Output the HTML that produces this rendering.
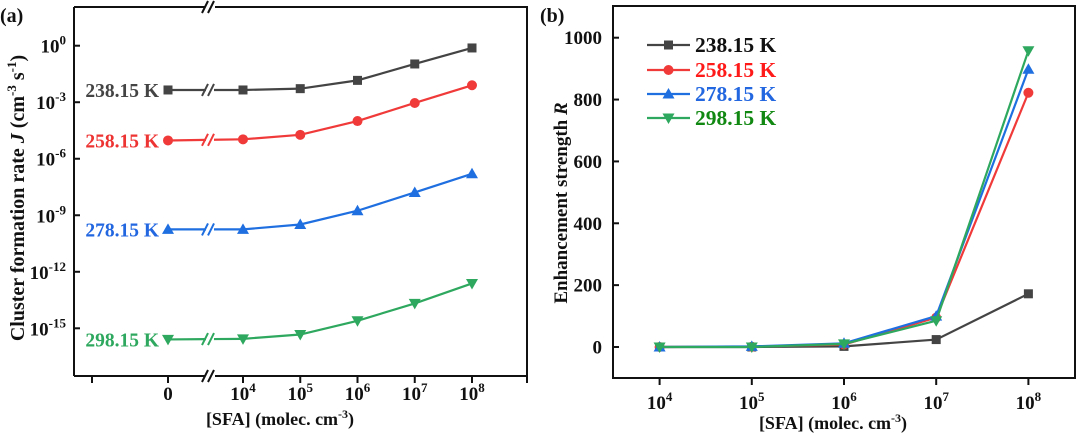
<!DOCTYPE html>
<html><head><meta charset="utf-8"><style>
html,body{margin:0;padding:0;background:#fff;}
svg{display:block;font-family:"Liberation Serif",serif;font-weight:bold;}
</style></head><body>
<svg id="chart" width="1077" height="433" viewBox="0 0 1077 433">
<g id="pa"></g>
<g id="pb"></g>
</svg>
<script>
// ---- Panel (a) data ----
const aCategories = ["0", "1e4", "1e5", "1e6", "1e7", "1e8"];
const aTickLabelsExp = [null, 4, 5, 6, 7, 8];
const aSeriesNames = ["238.15 K", "258.15 K", "278.15 K", "298.15 K"];
const aLog238 = [-2.35, -2.35, -2.28, -1.84, -0.97, -0.12];
const aLog258 = [-5.03, -4.97, -4.73, -4.0, -3.04, -2.1];
const aLog278 = [-9.75, -9.75, -9.49, -8.76, -7.79, -6.8];
const aLog298 = [-15.59, -15.56, -15.33, -14.6, -13.68, -12.62];
const aYTicks = [0, -3, -6, -9, -12, -15];
// ---- Panel (b) data ----
const bCategories = [4, 5, 6, 7, 8];
const bR238 = [0, 0, 2, 24, 172];
const bR258 = [0, 1, 8, 95, 822];
const bR278 = [0, 2, 12, 100, 898];
const bR298 = [0, 0, 10, 85, 958];
const bYTicks = [0, 200, 400, 600, 800, 1000];

const NS = "http://www.w3.org/2000/svg";
function mk(parent, tag, attrs, text){
  const e = document.createElementNS(NS, tag);
  for (const k in attrs) e.setAttribute(k, attrs[k]);
  if (text !== undefined) e.textContent = text;
  parent.appendChild(e); return e;
}
const colors = ["#444444", "#f03a3a", "#1f6fe0", "#2ea85e"];
const labelColors = ["#444444", "#ee3333", "#2266e0", "#2ea85e"];
const legendText = ["#111111", "#ff1a1a", "#2266e0", "#118811"];

function marker(g, type, x, y, c){
  let e;
  if (type === 0) e = mk(g, "rect", {x:x-4.5, y:y-4.5, width:9, height:9, fill:c});
  else if (type === 1) e = mk(g, "circle", {cx:x, cy:y, r:5, fill:c});
  else if (type === 2) e = mk(g, "polygon", {points:`${x},${y-6} ${x-6},${y+4.5} ${x+6},${y+4.5}`, fill:c});
  else e = mk(g, "polygon", {points:`${x},${y+6} ${x-6},${y-4.5} ${x+6},${y-4.5}`, fill:c});
  
  
  return e;
}
function sup(g, x, y, base, exp, anchor){
  const t = mk(g, "text", {x:x, y:y, "font-size":19, "text-anchor":anchor||"middle", fill:"#111"});
  mk(t, "tspan", {}, base);
  mk(t, "tspan", {"font-size":13, dy:-8}, exp);
  return t;
}

// ===== Panel A =====
(function(){
  const g = document.getElementById("pa");
  const L=74, R=527, T=7, B=376;
  const xa = i => i === 0 ? 168 : 243 + (i-1)*57.25;
  const ya = v => 45.7 - v*18.84;
  const br = 210;
  const ax = mk(g, "path", {d:`M${L},${T} L${br-5},${T} M${br+5},${T} L${R},${T} L${R},${B} L${br+5},${B} M${br-5},${B} L${L},${B} Z M${L},${T} L${L},${B}`, stroke:"#111", "stroke-width":2, fill:"none"});
  
  
  for (const yy of [T, B]) {
    const bk = mk(g, "path", {d:`M${br-8},${yy+6} L${br-2},${yy-6} M${br-2},${yy+6} L${br+4},${yy-6}`, stroke:"#111", "stroke-width":2, fill:"none"});
    
    
  }
  aYTicks.forEach(v => {
    const y = ya(v);
    mk(g, "line", {x1:L, x2:L+6, y1:y, y2:y, stroke:"#111", "stroke-width":2});
    const t = sup(g, L-8, y+7, "10", String(v), "end");
    
    
  });
  const xt = [92].concat(aCategories.map((c,i)=>xa(i))).concat([527]);
  xt.forEach(x => mk(g, "line", {x1:x, x2:x, y1:B, y2:B+7, stroke:"#111", "stroke-width":2}));
  aCategories.forEach((c,i) => {
    let t;
    if (i === 0) t = mk(g, "text", {x:xa(i), y:400, "font-size":19, "text-anchor":"middle", fill:"#111"}, "0");
    else t = sup(g, xa(i), 400, "10", String(aTickLabelsExp[i]));
    
    
  });
  const xtit = mk(g, "text", {x:280, y:425, "font-size":18, "text-anchor":"middle", fill:"#111"});
  
  
  mk(xtit, "tspan", {}, "[SFA] (molec. cm");
  mk(xtit, "tspan", {"font-size":12, dy:-7}, "-3");
  mk(xtit, "tspan", {dy:7}, ")");
  const ytit = mk(g, "text", {transform:"translate(24,198) rotate(-90)", "font-size":20, "text-anchor":"middle", fill:"#111"});
  
  
  mk(ytit, "tspan", {}, "Cluster formation rate ");
  mk(ytit, "tspan", {"font-style":"italic"}, "J");
  mk(ytit, "tspan", {}, " (cm");
  mk(ytit, "tspan", {"font-size":13, dy:-8}, "-3");
  mk(ytit, "tspan", {dy:8}, " s");
  mk(ytit, "tspan", {"font-size":13, dy:-8}, "-1");
  mk(ytit, "tspan", {dy:8}, ")");
  const pl = mk(g, "text", {x:0, y:22, "font-size":20, fill:"#111"}, "(a)");
  
  

  const series = [aLog238, aLog258, aLog278, aLog298];
  series.forEach((s, k) => {
    const c = colors[k];
    const sg = mk(g, "g", {});
    
    
    const y0 = ya(s[0]), y1 = ya(s[1]);
    const mid = (v)=> y0 + (y1-y0)*((v-168)/(243-168));
    mk(sg, "line", {x1:xa(0), y1:y0, x2:br-4, y2:mid(br-4), stroke:c, "stroke-width":2.2});
    mk(sg, "line", {x1:br+4, y1:mid(br+4), x2:xa(1), y2:y1, stroke:c, "stroke-width":2.2});
    mk(sg, "path", {d:`M${br-8},${mid(br)+6} L${br-2},${mid(br)-6} M${br-2},${mid(br)+6} L${br+4},${mid(br)-6}`, stroke:c, "stroke-width":2, fill:"none"});
    let d = "";
    for (let i=1;i<s.length;i++) d += (i===1?"M":"L") + xa(i) + "," + ya(s[i]) + " ";
    mk(sg, "path", {d:d, stroke:c, "stroke-width":2.2, fill:"none"});
    s.forEach((v,i) => marker(sg, k, xa(i), ya(v), c));
    const lab = mk(g, "text", {x:159, y:y0+7, "font-size":19.5, "text-anchor":"end", fill:labelColors[k]}, aSeriesNames[k]);
    
    
  });
})();

// ===== Panel B =====
(function(){
  const g = document.getElementById("pb");
  const L=613, R=1075, T=6, B=378;
  const xb = e => 659.6 + (e-4)*92.2;
  const yb = v => 347 - v*0.3093;
  const fr = mk(g, "rect", {x:L, y:T, width:R-L, height:B-T, stroke:"#111", "stroke-width":2, fill:"none"});
  
  
  bYTicks.forEach(v => {
    const y = yb(v);
    mk(g, "line", {x1:L, x2:L+6, y1:y, y2:y, stroke:"#111", "stroke-width":2});
    const t = mk(g, "text", {x:L-11, y:y+6.5, "font-size":19, "text-anchor":"end", fill:"#111"}, String(v));
    
    
  });
  bCategories.forEach(e => {
    const x = xb(e);
    mk(g, "line", {x1:x, x2:x, y1:B, y2:B+7, stroke:"#111", "stroke-width":2});
    const t = sup(g, x, 409, "10", String(e));
    
    
  });
  const xtit = mk(g, "text", {x:833, y:429, "font-size":18, "text-anchor":"middle", fill:"#111"});
  
  
  mk(xtit, "tspan", {}, "[SFA] (molec. cm");
  mk(xtit, "tspan", {"font-size":12, dy:-7}, "-3");
  mk(xtit, "tspan", {dy:7}, ")");
  const ytit = mk(g, "text", {transform:"translate(567,203) rotate(-90)", "font-size":19, "text-anchor":"middle", fill:"#111"});
  
  
  mk(ytit, "tspan", {}, "Enhancement strength ");
  mk(ytit, "tspan", {"font-style":"italic"}, "R");
  const pl = mk(g, "text", {x:540, y:22, "font-size":20, fill:"#111"}, "(b)");
  
  

  const series = [bR238, bR258, bR278, bR298];
  [0,1,2,3].forEach(k => {
    const s = series[k], c = colors[k];
    const sg = mk(g, "g", {});
    
    
    let d = "";
    s.forEach((v,i) => d += (i?"L":"M") + xb(bCategories[i]) + "," + yb(v) + " ");
    mk(sg, "path", {d:d, stroke:c, "stroke-width":2.2, fill:"none"});
    s.forEach((v,i) => marker(sg, k, xb(bCategories[i]), yb(v), c));
  });
  const legY = [45, 70, 94, 118];
  aSeriesNames.forEach((n,k) => {
    const lg = mk(g, "g", {});
    
    
    mk(lg, "line", {x1:647, x2:690, y1:legY[k], y2:legY[k], stroke:colors[k], "stroke-width":2.2});
    marker(lg, k, 668.5, legY[k], colors[k]);
    mk(lg, "text", {x:695, y:legY[k]+7, "font-size":21.5, fill:legendText[k]}, n);
  });
})();
</script>
</body></html>
